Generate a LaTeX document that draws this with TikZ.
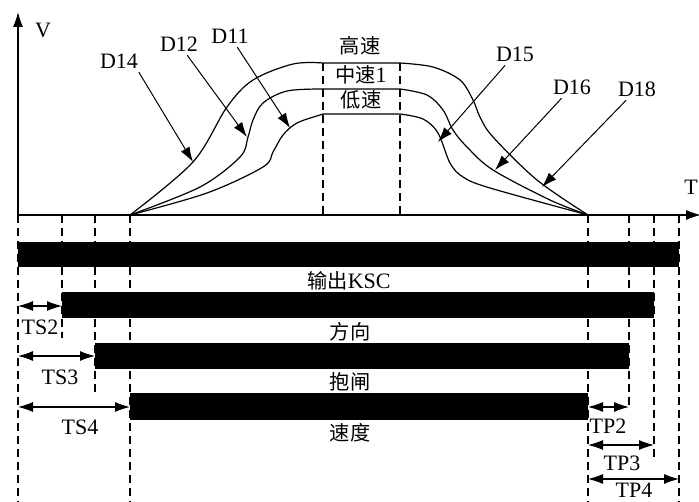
\documentclass[tikz,border=0pt]{standalone}
\usepackage{fontspec}
\setmainfont{Liberation Serif}
\newfontfamily\cjk[Scale=0.92]{Noto Sans CJK SC}
\usetikzlibrary{arrows.meta}
\tikzset{>={Latex[length=15pt,width=10pt]}}

\begin{document}
\begin{tikzpicture}[x=1pt, y=-1pt, line width=1.1pt, font=\fontsize{22}{24}\selectfont,
    curve/.style={line width=1.2pt, smooth, tension=0.55},
    guide/.style={line width=1.1pt, dash pattern=on 8pt off 5pt},
    pointer/.style={->, line width=1pt},
    span/.style={<->, line width=1.1pt}]

\useasboundingbox (0,0) rectangle (699,502);

% time marks on the axis
\coordinate (O) at (18,215);
\coordinate (ts2) at (62,215);
\coordinate (ts3) at (95,215);
\coordinate (ts4) at (130,215);
\coordinate (va) at (323,215);
\coordinate (vb) at (400,215);
\coordinate (tp1) at (588,215);
\coordinate (tp2) at (629,215);
\coordinate (tp3) at (654,215);
\coordinate (tp4) at (679,215);
\coordinate (vtop) at (18,12);
\coordinate (tend) at (701,215);

\draw [->] (O) -- (vtop);
\draw [->] (O) -- (tend);
\node (V) at (43,30) {V};
\node (T) at (691,187) {T};

% speed curves
\draw [curve] plot coordinates {(130,215) (193,162) (227,107) (253,80) (293,64) (323,63)}
    -- plot coordinates {(400,63) (433,67) (460,80) (473,100) (480,117) (493,137) (537,180) (588,215)};
\draw [curve] plot coordinates {(130,215) (200,187) (240,157) (248,137) (253,120) (263,103) (287,91) (323,89)}
    -- plot coordinates {(400,89) (427,95) (443,110) (453,130) (467,147) (493,170) (550,200) (588,215)};
\draw [curve] plot coordinates {(130,215) (207,193) (263,167) (273,152) (283,135) (297,123) (320,115) (323,114)}
    -- plot coordinates {(400,114) (423,119) (438,133) (450,163) (463,177) (490,188) (588,215)};

\draw [guide] (323,63) -- (va);
\draw [guide] (400,63) -- (vb);
\node (hi) at (360,46) {\cjk 高速};
\node (mid) at (361,75) {{\cjk 中速}1};
\node (lo) at (361,100) {\cjk 低速};

% curve labels
\node (D14) at (119,61) {D14};
\node (D12) at (179,44) {D12};
\node (D11) at (230,36) {D11};
\node (D15) at (515,54) {D15};
\node (D16) at (572,87) {D16};
\node (D18) at (637,89) {D18};
\coordinate (d14) at (193,162);
\coordinate (d12) at (247,137);
\coordinate (d11) at (290,128);
\coordinate (d15) at (438,142);
\coordinate (d16) at (495,170);
\coordinate (d18) at (542,187);
\draw [pointer] ([xshift=-3pt]D14.south east) -- (d14);
\draw [pointer] (D12) -- (d12);
\draw [pointer] (D11) -- (d11);
\draw [pointer] (D15) -- (d15);
\draw [pointer] (D16) -- (d16);
\draw [pointer] (D18) -- (d18);

% dashed guides below the axis
\draw [guide] (O) -- (18,502);
\draw [guide] (ts2) -- (62,338);
\draw [guide] (ts3) -- (95,395);
\draw [guide] (ts4) -- (130,502);
\draw [guide] (tp1) -- (588,502);
\draw [guide] (tp2) -- (629,408);
\draw [guide] (tp3) -- (654,460);
\draw [guide] (tp4) -- (679,502);

% signal bars
\fill (18,242) rectangle (679,267);
\fill (62,292) rectangle (654,318);
\fill (95,343) rectangle (629,369);
\fill (130,393) rectangle (588,420);
\node (ksc) at (349,281) {{\cjk 输出}KSC};
\node (dir) at (350,332) {\cjk 方向};
\node (brk) at (350,382) {\cjk 抱闸};
\node (spd) at (350,433) {\cjk 速度};

% start and stop delays
\coordinate (s2a) at (18,306);  \coordinate (s2b) at (62,306);
\coordinate (s3a) at (18,356);  \coordinate (s3b) at (95,356);
\coordinate (s4a) at (18,407);  \coordinate (s4b) at (130,407);
\coordinate (p2a) at (588,407); \coordinate (p2b) at (629,407);
\coordinate (p3a) at (588,445); \coordinate (p3b) at (654,445);
\coordinate (p4a) at (588,479); \coordinate (p4b) at (679,479);
\draw [span] (s2a) -- (s2b);
\draw [span] (s3a) -- (s3b);
\draw [span] (s4a) -- (s4b);
\draw [span] (p2a) -- (p2b);
\draw [span] (p3a) -- (p3b);
\draw [span] (p4a) -- (p4b);
\node (TS2) at (40,327) {TS2};
\node (TS3) at (60,377) {TS3};
\node (TS4) at (80,427) {TS4};
\node (TP2) at (608,426) {TP2};
\node (TP3) at (622,463) {TP3};
\node (TP4) at (634,490) {TP4};

\end{tikzpicture}
\end{document}
